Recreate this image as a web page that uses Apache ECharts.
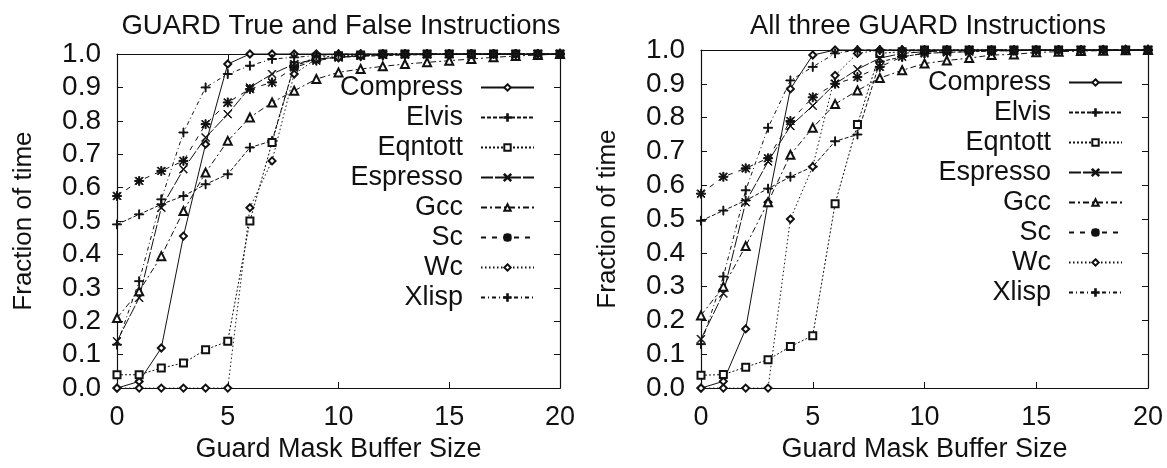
<!DOCTYPE html>
<html><head><meta charset="utf-8">
<script src="https://cdn.jsdelivr.net/npm/echarts@6/dist/echarts.min.js"></script>
<style>html,body{margin:0;padding:0;background:#fff}#c{width:1167px;height:468px}</style>
</head><body><div id="c"></div>
<script>
// ---------- data ----------
const bufferSizes = [0,1,2,3,4,5,6,7,8,9,10,11,12,13,14,15,16,17,18,19,20];
const seriesNames = ['Compress','Elvis','Eqntott','Espresso','Gcc','Sc','Wc','Xlisp'];
const yTickLabels = ['0.0','0.1','0.2','0.3','0.4','0.5','0.6','0.7','0.8','0.9','1.0'];
const xTickLabels = ['0','5','10','15','20'];
const leftTitle = 'GUARD True and False Instructions';
const rightTitle = 'All three GUARD Instructions';
const xAxisTitle = 'Guard Mask Buffer Size';
const yAxisTitle = 'Fraction of time';

// Left chart: GUARD True and False Instructions
const leftCompress = [0,0.02,0.12,0.455,0.73,0.97,1,1,1,1,1,1,1,1,1,1,1,1,1,1,1];
const leftElvis    = [0.49,0.52,0.55,0.575,0.61,0.64,0.72,0.74,0.965,0.985,0.99,0.993,0.995,0.997,0.998,0.999,1,1,1,1,1];
const leftEqntott  = [0.04,0.04,0.06,0.075,0.115,0.14,0.5,0.735,0.965,0.99,0.995,0.997,1,1,1,1,1,1,1,1,1];
const leftEspresso = [0.14,0.27,0.54,0.655,0.75,0.82,0.9,0.94,0.97,0.985,0.99,0.995,0.997,1,1,1,1,1,1,1,1];
const leftGcc      = [0.21,0.29,0.395,0.53,0.645,0.74,0.81,0.855,0.89,0.925,0.945,0.955,0.963,0.97,0.975,0.98,0.985,0.99,0.994,0.997,1];
const leftSc       = [0.575,0.62,0.65,0.68,0.79,0.855,0.895,0.915,0.96,0.98,0.99,0.995,0.997,0.998,0.999,1,1,1,1,1,1];
const leftWc       = [0,0,0,0,0,0,0.54,0.68,0.94,0.985,0.99,0.995,1,1,1,1,1,1,1,1,1];
const leftXlisp    = [0.13,0.32,0.565,0.765,0.9,0.94,0.965,0.985,0.99,0.995,1,1,1,1,1,1,1,1,1,1,1];

// Right chart: All three GUARD Instructions
const rightCompress = [0,0.02,0.175,0.55,0.885,0.985,1,1,1,1,1,1,1,1,1,1,1,1,1,1,1];
const rightElvis    = [0.495,0.525,0.555,0.59,0.625,0.655,0.73,0.75,0.965,0.98,0.99,0.993,0.995,0.997,0.998,0.999,1,1,1,1,1];
const rightEqntott  = [0.038,0.04,0.062,0.084,0.123,0.155,0.545,0.78,0.99,0.995,1,1,1,1,1,1,1,1,1,1,1];
const rightEspresso = [0.145,0.28,0.55,0.67,0.775,0.835,0.9,0.943,0.976,0.99,0.995,0.997,1,1,1,1,1,1,1,1,1];
const rightGcc      = [0.215,0.3,0.42,0.55,0.69,0.77,0.84,0.88,0.917,0.94,0.96,0.969,0.976,0.985,0.987,0.993,0.995,0.997,0.998,0.999,1];
const rightSc       = [0.575,0.625,0.65,0.68,0.79,0.86,0.9,0.92,0.95,0.98,0.99,0.993,0.995,0.997,0.998,0.999,1,1,1,1,1];
const rightWc       = [0,0,0,0,0.5,0.655,0.925,0.99,1,1,1,1,1,1,1,1,1,1,1,1,1];
const rightXlisp    = [0.13,0.33,0.585,0.77,0.91,0.95,0.99,1,1,1,1,1,1,1,1,1,1,1,1,1,1];

// ---------- styles ----------
const FONT = '"Liberation Sans", Arial, Helvetica, sans-serif';
const INK = '#111';
const PLUS = 'path://M4.5,0H5.5V10H4.5Z M0,4.5H10V5.5H0Z';
const CROSS = 'path://M0.6,0 L5,4.4 L9.4,0 L10,0.6 L5.6,5 L10,9.4 L9.4,10 L5,5.6 L0.6,10 L0,9.4 L4.4,5 L0,0.6 Z';
const STAR = 'path://M4.4,0H5.6V10H4.4Z M0,4.4H10V5.6H0Z M1.3,0.5 L5,4.2 L8.7,0.5 L9.5,1.3 L5.8,5 L9.5,8.7 L8.7,9.5 L5,5.8 L1.3,9.5 L0.5,8.7 L4.2,5 L0.5,1.3 Z';
const styleOf = {
  Compress: {symbol:'emptyDiamond', size:7, dash:'solid'},
  Elvis:    {symbol:PLUS, size:9, dash:[4,2]},
  Eqntott:  {symbol:'emptyRect', size:7, dash:[2,2]},
  Espresso: {symbol:CROSS, size:8, dash:[12,2]},
  Gcc:      {symbol:'emptyTriangle', size:8, dash:[6,3,2,3]},
  Sc:       {symbol:STAR, size:9, dash:[5,6]},
  Wc:       {symbol:'emptyDiamond', size:7, dash:[1.5,2.5]},
  Xlisp:    {symbol:PLUS, size:9, dash:[4,3,1,3]}
};
const leftData = {Compress:leftCompress, Elvis:leftElvis, Eqntott:leftEqntott, Espresso:leftEspresso, Gcc:leftGcc, Sc:leftSc, Wc:leftWc, Xlisp:leftXlisp};
const rightData = {Compress:rightCompress, Elvis:rightElvis, Eqntott:rightEqntott, Espresso:rightEspresso, Gcc:rightGcc, Sc:rightSc, Wc:rightWc, Xlisp:rightXlisp};

function makeSeries(dataMap, axisIndex) {
  return seriesNames.map(name => {
    const st = styleOf[name];
    return {
      type: 'line', name: name, xAxisIndex: axisIndex, yAxisIndex: axisIndex,
      data: bufferSizes.map((x, i) => [x, dataMap[name][i]]),
      symbol: st.symbol, symbolSize: st.size, symbolKeepAspect: true, showAllSymbol: true,
      lineStyle: {color: INK, width: 1, type: st.dash},
      itemStyle: {color: INK, borderColor: INK, borderWidth: 1},
      emphasis: {disabled: true}, animation: false, clip: false
    };
  });
}

function xAxes(gi) {
  const base = {gridIndex: gi, type: 'value', min: 0, max: 20, interval: 5,
    splitLine: {show: false},
    axisLine: {show: true, onZero: false, lineStyle: {color: INK, width: 1.2}},
    axisTick: {show: true, inside: true, length: 6, lineStyle: {color: INK}}};
  return [
    Object.assign({}, base, {position: 'bottom',
      axisLabel: {show: true, fontFamily: FONT, fontSize: 27, color: INK, margin: 16,
        formatter: v => xTickLabels[Math.round(v / 5)]},
      name: xAxisTitle, nameLocation: 'middle', nameGap: 41,
      nameTextStyle: {fontFamily: FONT, fontSize: 27, color: INK}}),
    Object.assign({}, base, {position: 'top', axisLabel: {show: false}})
  ];
}
function yAxes(gi) {
  const base = {gridIndex: gi, type: 'value', min: 0, max: 1, interval: 0.1,
    splitLine: {show: false},
    axisLine: {show: true, onZero: false, lineStyle: {color: INK, width: 1.2}},
    axisTick: {show: true, inside: true, length: 6, lineStyle: {color: INK}}};
  return [
    Object.assign({}, base, {position: 'left',
      axisLabel: {show: true, fontFamily: FONT, fontSize: 28, color: INK, margin: 16,
        formatter: v => yTickLabels[Math.round(v * 10)]},
      name: yAxisTitle, nameLocation: 'middle', nameGap: 80,
      nameTextStyle: {fontFamily: FONT, fontSize: 26, color: INK}}),
    Object.assign({}, base, {position: 'right', axisLabel: {show: false}})
  ];
}

function legendFor(right, top) {
  return {
    data: seriesNames, orient: 'vertical', align: 'right', right: right, top: top,
    padding: 0, itemGap: 3, itemWidth: 53, itemHeight: 8, selectedMode: false,
    textStyle: {fontFamily: FONT, fontSize: 27, color: INK, padding: [0, 13, 0, 0]},
    inactiveColor: INK
  };
}

const xa = xAxes(0).concat(xAxes(1));
const ya = yAxes(0).concat(yAxes(1));
// series axis indices: main axes are 0 (left chart) and 2 (right chart)
const series = makeSeries(leftData, 0).concat(makeSeries(rightData, 2));

const chart = echarts.init(document.getElementById('c'), null, {renderer: 'canvas'});
chart.setOption({
  animation: false,
  backgroundColor: '#fff',
  title: [
    {text: leftTitle, left: 336, top: 7, textAlign: 'center', textStyle: {fontFamily: FONT, fontSize: 27.5, fontWeight: 'normal', color: INK}},
    {text: rightTitle, left: 923, top: 7, textAlign: 'center', textStyle: {fontFamily: FONT, fontSize: 27.5, fontWeight: 'normal', color: INK}}
  ],
  grid: [
    {left: 117, top: 54, width: 443, height: 343},
    {left: 701, top: 50, width: 447, height: 342}
  ],
  xAxis: xa,
  yAxis: ya,
  legend: [legendFor(632, 74), legendFor(44, 69)],
  series: series
});
</script>
</body></html>
